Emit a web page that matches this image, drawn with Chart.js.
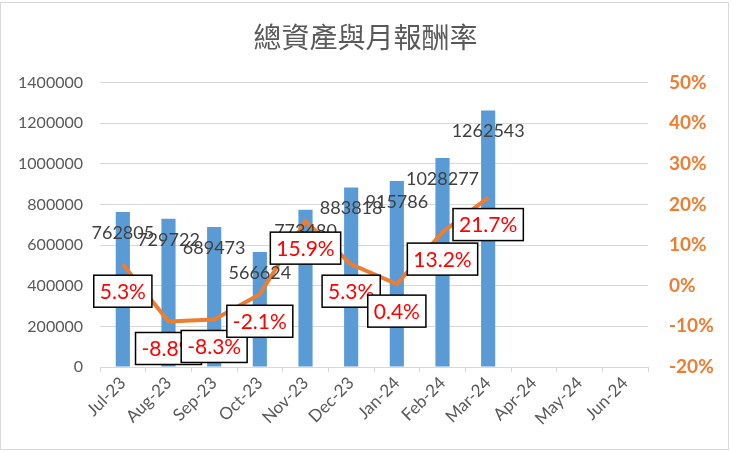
<!DOCTYPE html>
<html>
<head>
<meta charset="utf-8">
<script src="https://cdn.jsdelivr.net/npm/chart.js@4.4.1/dist/chart.umd.min.js"></script>
<style>
  html, body { margin: 0; padding: 0; background: #fff; }
  #wrap { width: 731px; height: 452px; }
</style>
</head>
<body>
<div id="wrap"><canvas id="chart1" width="731" height="452"></canvas></div>
<script>
// data
const months = ['Jul-23','Aug-23','Sep-23','Oct-23','Nov-23','Dec-23','Jan-24','Feb-24','Mar-24','Apr-24','May-24','Jun-24']
const totalAssets = [762805, 729722, 689473, 566624, 773480, 883818, 915786, 1028277, 1262543, null, null, null]
const monthlyReturn = [5.3, -8.8, -8.3, -2.1, 15.9, 5.3, 0.4, 13.2, 21.7, null, null, null]
const leftTicks = [0, 200000, 400000, 600000, 800000, 1000000, 1200000, 1400000]
const rightTicks = [-20, -10, 0, 10, 20, 30, 40, 50]

const grey = '#595959'

// frame round the whole chart
const framePlugin = {
  id: 'frame',
  beforeDraw(chart) {
    const ctx = chart.ctx
    ctx.save()
    ctx.fillStyle = '#fff'
    ctx.fillRect(0, 0, chart.width, chart.height)
    ctx.strokeStyle = '#D9D9D9'
    ctx.lineWidth = 1
    ctx.strokeRect(0.5, 2.5, chart.width - 3, chart.height - 5)
    ctx.restore()
  }
}

// value labels for bars and boxed labels for the line
const labelPlugin = {
  id: 'labels',
  afterDatasetsDraw(chart) {
    const ctx = chart.ctx
    ctx.save()
    ctx.textAlign = 'center'
    ctx.textBaseline = 'middle'

    const barMeta = chart.getDatasetMeta(1)
    ctx.font = '18px Lato'
    ctx.fillStyle = '#404040'
    barMeta.data.forEach((bar, i) => {
      if (totalAssets[i] == null) return
      ctx.fillText(String(totalAssets[i]), bar.x, bar.y + 21)
    })

    const lineMeta = chart.getDatasetMeta(0)
    ctx.font = '21px Lato'
    lineMeta.data.forEach((pt, i) => {
      if (monthlyReturn[i] == null) return
      const txt = monthlyReturn[i].toFixed(1) + '%'
      const w = ctx.measureText(txt).width + 12
      const h = 32
      const cx = pt.x, cy = pt.y + 27
      ctx.fillStyle = '#fff'
      ctx.fillRect(cx - w / 2, cy - h / 2, w, h)
      ctx.strokeStyle = '#000'
      ctx.lineWidth = 1.5
      ctx.strokeRect(cx - w / 2, cy - h / 2, w, h)
      ctx.fillStyle = '#FF0000'
      ctx.fillText(txt, cx, cy + 1)
    })
    ctx.restore()
  }
}

new Chart(document.getElementById('chart1'), {
  data: {
    labels: months,
    datasets: [
      {
        type: 'line',
        label: '月報酬率',
        data: monthlyReturn,
        yAxisID: 'y1',
        borderColor: '#ED7D31',
        borderWidth: 4,
        pointRadius: 0,
        tension: 0,
        order: 0
      },
      {
        type: 'bar',
        label: '總資產',
        data: totalAssets,
        yAxisID: 'y',
        backgroundColor: '#5B9BD5',
        categoryPercentage: 1,
        barPercentage: 0.31,
        order: 1
      }
    ]
  },
  options: {
    responsive: false,
    animation: false,
    layout: { padding: 0 },
    plugins: {
      legend: { display: false },
      tooltip: { enabled: false },
      title: {
        display: true,
        text: '總資產與月報酬率',
        color: grey,
        font: { family: '"Noto Sans CJK TC"', size: 28, weight: 'normal', lineHeight: 1.2 },
        padding: { top: 21, bottom: 28 }
      }
    },
    scales: {
      x: {
        offset: true,
        grid: { offset: true, drawOnChartArea: false, drawTicks: true, tickLength: 5, color: '#D9D9D9' },
        border: { color: '#D9D9D9' },
        ticks: { color: grey, font: { family: 'Lato', size: 17 }, maxRotation: 45, minRotation: 45, autoSkip: false, padding: 1 },
        afterFit(s) { s.height = 85 }
      },
      y: {
        position: 'left',
        min: 0,
        max: 1400000,
        afterBuildTicks(s) { s.ticks = leftTicks.map(v => ({ value: v })) },
        grid: { color: '#D9D9D9', drawTicks: false },
        border: { display: false },
        ticks: { color: grey, font: { family: 'Lato', size: 16 }, padding: 17, callback: v => String(v) },
        afterFit(s) { s.width = 100 }
      },
      y1: {
        position: 'right',
        min: -20,
        max: 50,
        afterBuildTicks(s) { s.ticks = rightTicks.map(v => ({ value: v })) },
        grid: { drawOnChartArea: false, drawTicks: false },
        border: { display: false },
        ticks: { color: '#ED7D31', font: { family: 'Lato', size: 19, weight: 'bold' }, padding: 21, callback: v => v + '%' },
        afterFit(s) { s.width = 83 }
      }
    }
  },
  plugins: [framePlugin, labelPlugin]
})
</script>
</body>
</html>
